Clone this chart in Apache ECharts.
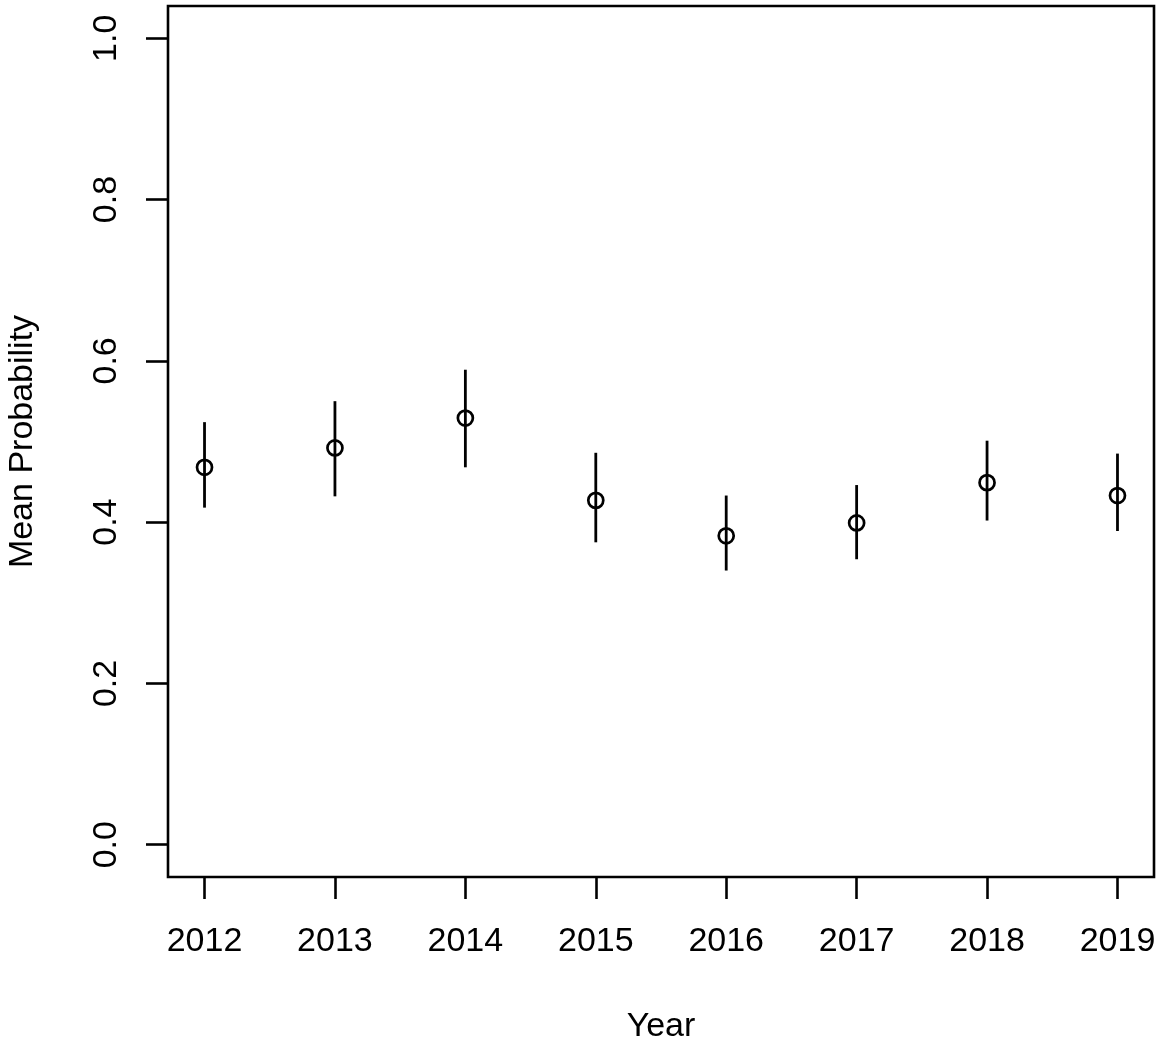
<!DOCTYPE html>
<html>
<head>
<meta charset="utf-8">
<script src="https://cdn.jsdelivr.net/npm/echarts@6/dist/echarts.min.js"></script>
<style>
html,body{margin:0;padding:0;background:#fff;}
#chart{width:1170px;height:1046px;}
</style>
</head>
<body>
<div id="chart"></div>
<script>
const years = [2012, 2013, 2014, 2015, 2016, 2017, 2018, 2019];
const meanProb = [0.468, 0.492, 0.529, 0.427, 0.383, 0.399, 0.449, 0.433];
const upper = [0.524, 0.550, 0.589, 0.486, 0.433, 0.446, 0.501, 0.485];
const lower = [0.418, 0.432, 0.468, 0.375, 0.340, 0.354, 0.402, 0.389];
const yTicks = [0, 0.2, 0.4, 0.6, 0.8, 1.0];
const yTickLabels = ['0.0', '0.2', '0.4', '0.6', '0.8', '1.0'];

const chart = echarts.init(document.getElementById('chart'));
const font = 'Liberation Sans, Arial, sans-serif';

chart.setOption({
  animation: false,
  backgroundColor: '#fff',
  grid: {
    left: 168, right: 16, top: 6, bottom: 169,
    outerBoundsMode: 'none', containLabel: false,
    show: true, borderColor: '#000', borderWidth: 2.6, backgroundColor: 'transparent'
  },
  xAxis: {
    type: 'value',
    min: 2011.72, max: 2019.28,
    name: 'Year', nameLocation: 'middle', nameGap: 133,
    nameTextStyle: { fontFamily: font, fontSize: 34, color: '#000' },
    axisLine: { show: false, onZero: false },
    splitLine: { show: false },
    axisTick: { show: true, inside: false, length: 22, customValues: years,
      lineStyle: { color: '#000', width: 2.6 } },
    axisLabel: { customValues: years, margin: 48, fontFamily: font, fontSize: 34, color: '#000',
      formatter: v => String(Math.round(v)) }
  },
  yAxis: {
    type: 'value',
    min: -0.04, max: 1.04,
    name: 'Mean Probability', nameLocation: 'middle', nameGap: 128, nameRotate: 90,
    nameTextStyle: { fontFamily: font, fontSize: 34, color: '#000' },
    axisLine: { show: false, onZero: false },
    splitLine: { show: false },
    axisTick: { show: true, inside: false, length: 22, customValues: yTicks,
      lineStyle: { color: '#000', width: 2.6 } },
    axisLabel: { customValues: yTicks, rotate: 90, margin: 44, fontFamily: font, fontSize: 34, color: '#000',
      formatter: v => { const i = yTicks.findIndex(t => Math.abs(t - v) < 1e-9); return i >= 0 ? yTickLabels[i] : ''; } }
  },
  series: [
    {
      type: 'custom',
      data: years.map((y, i) => [y, lower[i], upper[i]]),
      renderItem: (params, api) => {
        const p1 = api.coord([api.value(0), api.value(1)]);
        const p2 = api.coord([api.value(0), api.value(2)]);
        return {
          type: 'line',
          shape: { x1: p1[0], y1: p1[1], x2: p2[0], y2: p2[1] },
          style: { stroke: '#000', lineWidth: 2.8 }
        };
      },
      z: 2
    },
    {
      type: 'scatter',
      data: years.map((y, i) => [y, meanProb[i]]),
      symbol: 'circle',
      symbolSize: 15,
      itemStyle: { color: 'rgba(0,0,0,0)', borderColor: '#000', borderWidth: 2.7, opacity: 1 },
      z: 3
    }
  ]
});
</script>
</body>
</html>
